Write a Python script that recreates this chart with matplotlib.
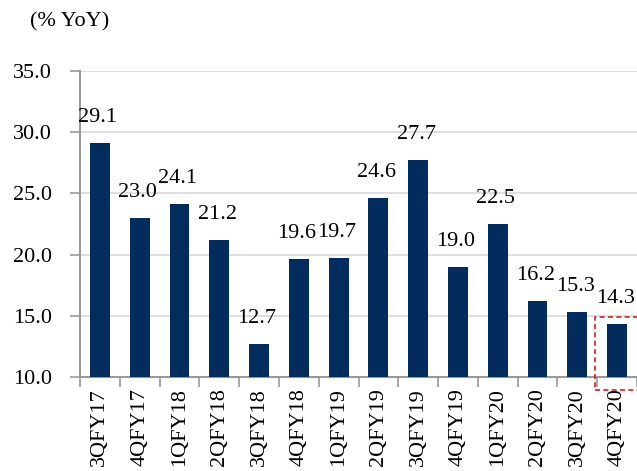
import matplotlib
matplotlib.use("Agg")
import matplotlib.pyplot as plt
from matplotlib.patches import Rectangle

quarters = ["3QFY17", "4QFY17", "1QFY18", "2QFY18", "3QFY18", "4QFY18", "1QFY19",
            "2QFY19", "3QFY19", "4QFY19", "1QFY20", "2QFY20", "3QFY20", "4QFY20"]
growth = [29.1, 23.0, 24.1, 21.2, 12.7, 19.6, 19.7, 24.6, 27.7, 19.0, 22.5, 16.2, 15.3, 14.3]
yticks = [10.0, 15.0, 20.0, 25.0, 30.0, 35.0]

plt.rcParams['font.family'] = ['Liberation Serif', 'DejaVu Serif']

fig = plt.figure(figsize=(6.37, 4.71), dpi=100)
ax = fig.add_axes([80/637, 94/471, 557/637, 306/471])

x = list(range(len(quarters)))
ax.bar(x, growth, width=0.5, color='#022b5e', zorder=3)

for xi, v in zip(x, growth):
    ax.text(xi - 0.05, v + 2.1, "%.1f" % v, ha='center', va='center', fontsize=16, zorder=4)

ax.set_xlim(-0.5, len(quarters) - 0.5)
ax.set_ylim(10, 35)
ax.set_yticks(yticks)
ax.set_yticklabels(["%.1f" % t for t in yticks], fontsize=16)
ax.yaxis.grid(True, color='#d9d9d9', linewidth=1.2, zorder=0)
ax.set_axisbelow(True)

# category labels centred, tick marks on the boundaries
ax.set_xticks(x)
ax.set_xticklabels(quarters, rotation=90, fontsize=16)
ax.tick_params(axis='x', length=0, pad=8)
ax.set_xticks([i - 0.5 for i in range(len(quarters) + 1)], minor=True)
ax.tick_params(axis='x', which='minor', length=7, width=1.2, color='#999999', direction='out')
ax.tick_params(axis='y', length=7, width=1.2, color='#999999', direction='out', pad=13)

for s in ['top', 'right']:
    ax.spines[s].set_visible(False)
for s in ['left', 'bottom']:
    ax.spines[s].set_color('#999999')
    ax.spines[s].set_linewidth(1.5)

# highlight latest quarter
ax.add_patch(Rectangle((12.45, 8.95), 1.3, 5.95, fill=False, edgecolor='#d42020',
                       linestyle=(0, (3, 2)), linewidth=1.2, clip_on=False, zorder=5))

fig.text(30/637, 1 - 22/471, "(% YoY)", fontsize=16, va='center', ha='left')

fig.savefig("out.png", dpi=100)
